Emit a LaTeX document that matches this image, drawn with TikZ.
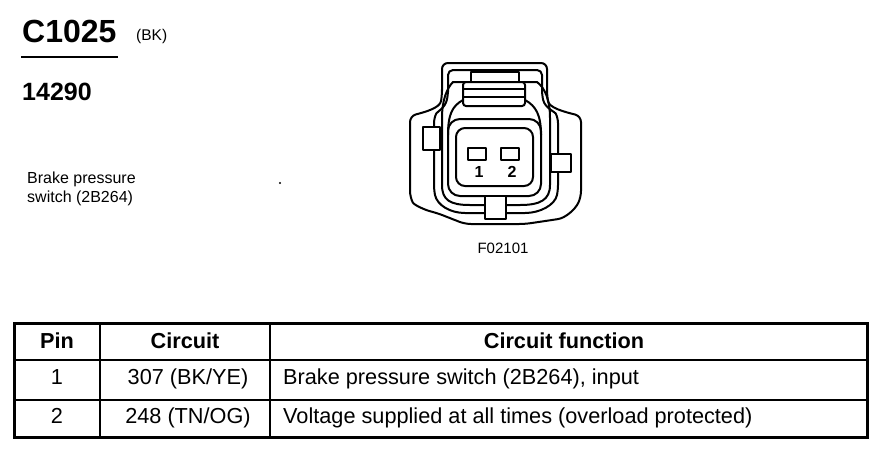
\documentclass[tikz,border=0pt]{standalone}
\usepackage{fontspec}
\setmainfont{Liberation Sans}
\usetikzlibrary{positioning}

\begin{document}
\begin{tikzpicture}[x=1pt,y=-1pt]
	\tikzstyle{outline}=[line width=2pt,line join=round]
	\tikzstyle{lug}=[outline,fill=white]
	\tikzstyle{label}=[inner sep=0pt,anchor=base]
	\tikzstyle{celltext}=[label,font=\fontsize{21.7}{26}\selectfont]
	\tikzstyle{headtext}=[label,font=\bfseries\fontsize{21.7}{26}\selectfont]

	\fill[white] (0,0) rectangle (880,448);
	\useasboundingbox (0,0) rectangle (880,448);

	% title
	\node[label,anchor=base west,font=\bfseries\fontsize{32}{36}\selectfont] (conn) at (22,42) {C1025};
	\node[label,anchor=base west,font=\fontsize{15.5}{18}\selectfont] (colour) at (136,40) {(BK)};
	\draw[line width=2.2pt] (21,57) -- (118,57);
	\node[label,anchor=base west,font=\bfseries\fontsize{25}{30}\selectfont] (part) at (22,100) {14290};
	\node[label,anchor=base west,font=\fontsize{16}{20}\selectfont] (name1) at (27,183) {Brake pressure};
	\node[label,anchor=base west,font=\fontsize{16}{20}\selectfont] (name2) at (27,202) {switch (2B264)};
	\fill (280,183) circle (1.2pt);

	% housing
	\draw[outline,rounded corners=6pt] (442,95) -- (442,63) -- (547,63) -- (547,95)
		.. controls (549,108) and (565,112) .. (581,116) -- (581,197)
		.. controls (575,210) and (565,218) .. (552,220) -- (525,224) -- (465,224)
		-- (437,213) .. controls (425,210) and (414,205) .. (410,197) -- (410,116)
		.. controls (425,112) and (440,108) .. (442,95) -- cycle;
	\draw[outline,rounded corners=5pt] (448,95) -- (448,70) -- (542,70) -- (542,95)
		.. controls (545,108) and (555,112) .. (558,118) -- (558,190)
		.. controls (555,205) and (540,213) .. (520,213) -- (470,213)
		.. controls (450,213) and (437,205) .. (434,190) -- (434,118)
		.. controls (437,112) and (445,108) .. (448,95) -- cycle;
	\draw[outline] (453,82) -- (537,82)
		.. controls (545,88) and (550,100) .. (550,118) -- (550,185)
		.. controls (550,200) and (540,205) .. (520,205) -- (470,205)
		.. controls (450,205) and (442,200) .. (442,185) -- (442,118)
		.. controls (442,100) and (447,88) .. (453,82) -- cycle;
	\draw[outline] (463,100) .. controls (452,106) and (448,115) .. (448,135);
	\draw[outline] (525,100) .. controls (536,106) and (541,115) .. (541,135);

	% latch
	\draw[outline] (471,82) -- (471,72) -- (519,72) -- (519,82);
	\draw[lug,rounded corners=3pt] (463,82) rectangle (525,106);
	\draw[outline] (463,89) -- (525,89);
	\draw[outline] (463,97) -- (525,97);

	% body
	\draw[outline,rounded corners=12pt] (448,119) rectangle (541,196);
	\draw[outline,rounded corners=9pt] (456,128) rectangle (533,186);
	\draw[lug] (468,148) rectangle (486,160);
	\draw[lug] (501,148) rectangle (519,160);
	\node[label,font=\bfseries\fontsize{16}{20}\selectfont] (pin1) at (479,177) {1};
	\node[label,font=\bfseries\fontsize{16}{20}\selectfont] (pin2) at (512,177) {2};

	% lugs
	\draw[lug] (423,127) rectangle (440,150);
	\draw[lug] (551,154) rectangle (571,172);
	\fill[white] (485,197) rectangle (506,219);
	\draw[outline] (485,196) -- (485,219) -- (506,219) -- (506,196);

	\node[label,font=\fontsize{15}{18}\selectfont] (fig) at (503,253) {F02101};

	% table
	\draw[line width=3pt] (14,323) rectangle (867,437);
	\draw[line width=2.2pt] (14,360) -- (867,360);
	\draw[line width=2.2pt] (14,400) -- (867,400);
	\draw[line width=2.2pt] (100,323) -- (100,437);
	\draw[line width=2.2pt] (270,323) -- (270,437);

	\node[headtext] (hpin) at (57,348) {Pin};
	\node[headtext] (hcirc) at (185,348) {Circuit};
	\node[headtext] (hfunc) at (564,348) {Circuit function};

	\node[celltext] (pina) at (57,384) {1};
	\node[celltext] (circa) at (188,384) {307 (BK/YE)};
	\node[celltext,anchor=base west] (funca) at (283,384) {Brake pressure switch (2B264), input};

	\node[celltext] (pinb) at (57,423) {2};
	\node[celltext] (circb) at (188,423) {248 (TN/OG)};
	\node[celltext,anchor=base west] (funcb) at (283,423) {Voltage supplied at all times (overload protected)};
\end{tikzpicture}
\end{document}
